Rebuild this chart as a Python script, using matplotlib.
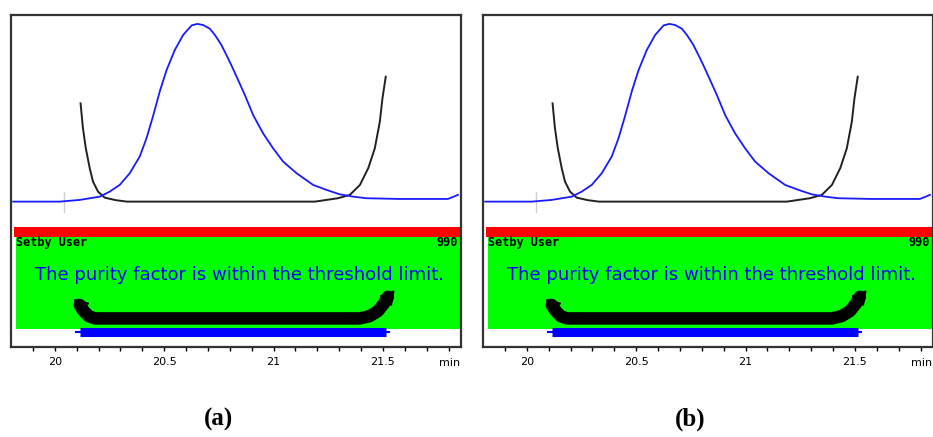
import numpy as np
import matplotlib.pyplot as plt
from matplotlib.patches import Rectangle
import matplotlib.transforms as mtransforms

# chromatogram (blue), time in min, signal scaled so peak = 100
blue_t = [19.81, 20.023, 20.114, 20.206, 20.251, 20.297, 20.343, 20.389, 20.419,
          20.449, 20.480, 20.511, 20.549, 20.587, 20.626, 20.652, 20.678, 20.709,
          20.732, 20.762, 20.800, 20.831, 20.869, 20.907, 20.952, 20.998, 21.044,
          21.105, 21.181, 21.242, 21.303, 21.364, 21.425, 21.577, 21.797, 21.820,
          21.843]
blue_y = [0.0, 0.0, 0.96, 2.8, 5.6, 9.4, 16.0, 25.5, 35.5,
          48.0, 62.0, 74.0, 85.4, 93.8, 99.2, 100.0, 99.4, 97.3,
          93.8, 88.1, 78.7, 70.4, 60.0, 48.7, 38.5, 30.0, 22.5,
          16.0, 9.4, 6.6, 4.1, 2.8, 1.9, 1.5, 1.5, 2.6,
          3.8]

# purity curve (black)
pur_t = [20.118, 20.129, 20.142, 20.160, 20.175, 20.198, 20.229, 20.280, 20.330,
         21.189, 21.294, 21.349, 21.395, 21.433, 21.463, 21.486, 21.498, 21.513]
pur_y = [55.3, 41.2, 30.0, 18.7, 11.2, 5.6, 2.2, 0.8, 0.0,
         0.0, 1.9, 3.8, 9.4, 18.8, 30.0, 45.0, 58.1, 70.3]

# peak purity region (start / end time)
region = [20.114, 21.514]
mark_t = [20.041]

major_ticks = [20, 20.5, 21, 21.5]
tick_labels = ["20", "20.5", "21", "21.5"]
header_left = "Setby User"
header_right = "990"
message = "The purity factor is within the threshold limit."
captions = ["(a)", "(b)"]

fig = plt.figure(figsize=(9.33, 4.37), dpi=100)


def draw_panel(left, caption):
    ax = fig.add_axes([left, 0.206, 450 / 933, 0.76])
    ax.set_xlim(19.80, 21.857)
    ax.set_ylim(-81.8, 105.1)
    trans = mtransforms.blended_transform_factory(ax.transData, ax.transAxes)

    # status bands
    ax.add_patch(Rectangle((19.8125, 0.331), 2.1, 0.030, transform=trans,
                           color="#ff0000", lw=0, zorder=1))
    ax.add_patch(Rectangle((19.822, 0.054), 2.1, 0.277, transform=trans,
                           color="#00ff00", lw=0, zorder=1))

    ax.text(19.822, 0.316, header_left, transform=trans, fontsize=8.5,
            family="DejaVu Sans Mono", weight="bold", va="center", ha="left")
    ax.text(0.993, 0.316, header_right, transform=ax.transAxes, fontsize=8.5,
            family="DejaVu Sans Mono", weight="bold", va="center", ha="right")
    ax.text(0.508, 0.217, message, transform=ax.transAxes, fontsize=13,
            family="DejaVu Sans", color="#0000ff", va="center", ha="center")

    # U-shaped arrow over the region
    ut = [region[0], 20.133, 20.155, 20.183, 21.395, 21.440, 21.477, 21.504,
          region[1] + 0.009]
    uy = [0.1265, 0.108, 0.093, 0.086, 0.086, 0.093, 0.108, 0.130, 0.151]
    ax.plot(ut, uy, color="black", lw=9, solid_capstyle="round",
            transform=trans, zorder=3)
    ax.plot([ut[0]], [uy[0]], marker=(3, 0, 45), ms=12, color="black",
            transform=trans, zorder=3)
    ax.plot([ut[-1]], [uy[-1]], marker=(3, 0, -40), ms=12, color="black",
            transform=trans, zorder=3)

    # region bar
    ax.plot([region[0] - 0.015, region[1] + 0.015], [0.045, 0.045],
            color="#0000ff", lw=1.5, transform=trans, zorder=3)
    ax.plot(region, [0.045, 0.045], color="#0000ff", lw=6.5,
            solid_capstyle="butt", transform=trans, zorder=3)

    ax.plot([mark_t[0], mark_t[0]], [5.5, -5.8], color="#d0d0d0", lw=1)
    ax.plot(pur_t, pur_y, color="#222222", lw=1.4, zorder=4)
    ax.plot(blue_t, blue_y, color="#1a1aff", lw=1.3, zorder=5)

    for s in ax.spines.values():
        s.set_linewidth(1.6)
        s.set_color("#333333")
    ax.set_yticks([])
    ax.set_xticks(major_ticks)
    ax.set_xticklabels(tick_labels)
    ax.set_xticks(np.arange(19.9, 21.86, 0.1), minor=True)
    ax.tick_params(axis="x", which="both", direction="out", length=3,
                   width=1, labelsize=8, pad=4)
    ax.text(0.975, -0.048, "min", transform=ax.transAxes, fontsize=8,
            ha="center", va="center")

    fig.text(left + 0.222, 0.04, caption, fontsize=18, weight="bold",
             family="Liberation Serif", ha="center", va="center")
    return ax


draw_panel(11 / 933, captions[0])
draw_panel(483 / 933, captions[1])

fig.savefig("out.png", dpi=100)
